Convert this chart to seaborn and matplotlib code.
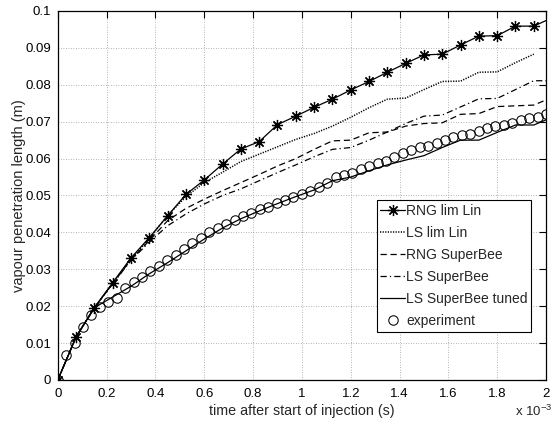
import numpy as np
import pandas as pd
import matplotlib
matplotlib.use("Agg")
import matplotlib.pyplot as plt
import seaborn as sns

# ---- data (time in ms, length in m) ----
t_sim = [0.0, 0.075, 0.15, 0.225, 0.3, 0.375, 0.45, 0.525, 0.6, 0.675, 0.75,
         0.825, 0.9, 0.975, 1.05, 1.125, 1.2, 1.275, 1.35, 1.425, 1.5, 1.575,
         1.65, 1.725, 1.8, 1.875, 1.95, 2.0]

rng_lim_lin = [0.0, 0.0117, 0.0196, 0.0264, 0.0331, 0.0386, 0.0445, 0.0503, 0.0542,
               0.0585, 0.0626, 0.0646, 0.0692, 0.0715, 0.0739, 0.0761, 0.0786, 0.0809,
               0.0834, 0.0858, 0.0881, 0.0883, 0.0908, 0.0932, 0.0933, 0.0959, 0.0959,
               0.0974]

ls_lim_lin = [0.0, 0.0117, 0.0196, 0.0262, 0.0328, 0.0384, 0.0446, 0.0497, 0.0535,
              0.0563, 0.0592, 0.0612, 0.0632, 0.0652, 0.0668, 0.0688, 0.0712, 0.0738,
              0.0761, 0.0764, 0.0787, 0.0809, 0.0810, 0.0834, 0.0835, 0.0860, 0.0883,
              np.nan]

rng_superbee = [0.0, 0.0117, 0.0196, 0.0262, 0.0326, 0.0378, 0.0432, 0.0465, 0.0490,
                0.0513, 0.0535, 0.0557, 0.0580, 0.0600, 0.0625, 0.0648, 0.0650, 0.0670,
                0.0672, 0.0688, 0.0695, 0.0697, 0.0720, 0.0722, 0.0741, 0.0743, 0.0745,
                0.0759]

ls_superbee = [0.0, 0.0117, 0.0196, 0.0261, 0.0324, 0.0374, 0.0418, 0.0450, 0.0477,
               0.0500, 0.0518, 0.0540, 0.0562, 0.0583, 0.0605, 0.0625, 0.0630, 0.0650,
               0.0672, 0.0695, 0.0715, 0.0718, 0.0740, 0.0762, 0.0763, 0.0787, 0.0811,
               0.0811]

ls_superbee_tuned = [0.0, 0.0117, 0.0196, 0.0225, 0.0254, 0.0288, 0.0318, 0.0350, 0.0382,
                     0.0412, 0.0437, 0.0458, 0.0478, 0.0497, 0.0515, 0.0540, 0.0550, 0.0567,
                     0.0583, 0.0596, 0.0608, 0.0630, 0.0650, 0.0650, 0.0671, 0.0691, 0.0691,
                     0.0705]

t_exp = [0.0, 0.0345, 0.069, 0.1034, 0.1379, 0.1724, 0.2069, 0.2414, 0.2759, 0.3103,
         0.3448, 0.3793, 0.4138, 0.4483, 0.4828, 0.5172, 0.5517, 0.5862, 0.6207, 0.6552,
         0.6897, 0.7241, 0.7586, 0.7931, 0.8276, 0.8621, 0.8966, 0.931, 0.9655, 1.0,
         1.0345, 1.069, 1.1034, 1.1379, 1.1724, 1.2069, 1.2414, 1.2759, 1.3103, 1.3448,
         1.3793, 1.4138, 1.4483, 1.4828, 1.5172, 1.5517, 1.5862, 1.6207, 1.6552, 1.6897,
         1.7241, 1.7586, 1.7931, 1.8276, 1.8621, 1.8966, 1.931, 1.9655, 2.0]

experiment = [0.0, 0.0069, 0.0101, 0.0144, 0.0177, 0.0197, 0.0210, 0.0222, 0.0250, 0.0266,
              0.0278, 0.0295, 0.0310, 0.0325, 0.0340, 0.0354, 0.0370, 0.0385, 0.0400, 0.0412,
              0.0423, 0.0434, 0.0444, 0.0453, 0.0463, 0.0470, 0.0479, 0.0488, 0.0497, 0.0504,
              0.0511, 0.0522, 0.0535, 0.0549, 0.0555, 0.0562, 0.0571, 0.0580, 0.0587, 0.0594,
              0.0605, 0.0614, 0.0623, 0.0632, 0.0635, 0.0643, 0.0650, 0.0658, 0.0664, 0.0668,
              0.0676, 0.0682, 0.0688, 0.0691, 0.0697, 0.0705, 0.0709, 0.0714, 0.0720]

x_ticks = [0, 0.2, 0.4, 0.6, 0.8, 1.0, 1.2, 1.4, 1.6, 1.8, 2.0]
x_tick_labels = ["0", "0.2", "0.4", "0.6", "0.8", "1", "1.2", "1.4", "1.6", "1.8", "2"]
y_ticks = [0, 0.01, 0.02, 0.03, 0.04, 0.05, 0.06, 0.07, 0.08, 0.09, 0.1]
y_tick_labels = ["0", "0.01", "0.02", "0.03", "0.04", "0.05", "0.06", "0.07", "0.08", "0.09", "0.1"]

# ---- style ----
sns.set_style("white")
plt.rcParams["font.family"] = ["Liberation Sans", "DejaVu Sans"]
plt.rcParams["axes.unicode_minus"] = False

fig = plt.figure(figsize=(5.56, 4.23), dpi=100)
ax = fig.add_axes([0.104, 0.1017, 0.878, 0.8723])

sim = pd.DataFrame({"t": t_sim, "rng_lim": rng_lim_lin, "ls_lim": ls_lim_lin,
                    "rng_sb": rng_superbee, "ls_sb": ls_superbee,
                    "ls_sb_t": ls_superbee_tuned})
exp = pd.DataFrame({"t": t_exp, "v": experiment})

lw = 0.9
sns.lineplot(data=sim, x="t", y="rng_lim", ax=ax, color="black", lw=lw,
             marker=(8, 2, 0), markersize=8, markeredgewidth=0.9,
             markeredgecolor="black", markerfacecolor="black",
             markevery=list(range(27)), label="RNG lim Lin")
sns.lineplot(data=sim.dropna(subset=["ls_lim"]), x="t", y="ls_lim", ax=ax,
             color="black", lw=1.1, linestyle=(0, (0.8, 0.9)), label="LS lim Lin")
sns.lineplot(data=sim, x="t", y="rng_sb", ax=ax, color="black", lw=lw,
             linestyle=(0, (5, 3)), label="RNG SuperBee")
sns.lineplot(data=sim, x="t", y="ls_sb", ax=ax, color="black", lw=lw,
             linestyle=(0, (5, 2.5, 1, 2.5)), label="LS SuperBee")
sns.lineplot(data=sim, x="t", y="ls_sb_t", ax=ax, color="black", lw=lw,
             linestyle="-", label="LS SuperBee tuned")
sns.lineplot(data=exp, x="t", y="v", ax=ax, color="black", linestyle="none",
             marker="o", markersize=6.8, markerfacecolor="none",
             markeredgecolor="black", markeredgewidth=0.75, label="experiment")

ax.set_xlim(0, 2)
ax.set_ylim(0, 0.1)
ax.set_xticks(x_ticks)
ax.set_xticklabels(x_tick_labels)
ax.set_yticks(y_ticks)
ax.set_yticklabels(y_tick_labels)
ax.grid(True, linestyle=(0, (1, 2)), color="#9a9a9a", linewidth=0.6)
ax.tick_params(direction="in", length=5, width=0.8, top=True, right=True,
               labelsize=9.5, colors="black")
ax.tick_params(axis="x", pad=6)
ax.tick_params(axis="y", pad=5)
for s in ax.spines.values():
    s.set_color("black")
    s.set_linewidth(0.9)

ax.set_xlabel("time after start of injection (s)", fontsize=10.3, labelpad=3)
ax.set_ylabel("vapour penetration length (m)", fontsize=10.5, labelpad=-1)

ax.text(1.013, -0.098, r"x 10$^{\mathregular{-3}}$", transform=ax.transAxes,
        ha="right", va="baseline", fontsize=9.5)

leg = ax.legend(loc="lower left", bbox_to_anchor=(0.653, 0.131), fontsize=10,
                frameon=True, fancybox=False, shadow=False, framealpha=1,
                edgecolor="black", handlelength=1.8, handletextpad=0.1,
                labelspacing=0.58, borderpad=0.25, borderaxespad=0, numpoints=1)
leg.get_frame().set_linewidth(0.8)

fig.savefig("out.png", dpi=100)
